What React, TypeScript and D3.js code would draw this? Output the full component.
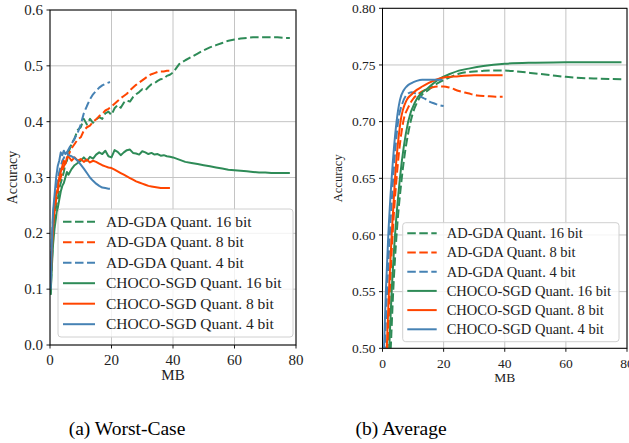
import React from 'react';
import * as d3 from 'd3';

const GREEN = '#2e8b57';
const ORANGE = '#ff4500';
const BLUE = '#4682b4';

const xTickValues = [0, 20, 40, 60, 80];
const wcYTicks = [0.0, 0.1, 0.2, 0.3, 0.4, 0.5, 0.6];
const avgYTicks = [0.5, 0.55, 0.6, 0.65, 0.7, 0.75, 0.8];

const legendLabels = [
  'AD-GDA Quant. 16 bit',
  'AD-GDA Quant. 8 bit',
  'AD-GDA Quant. 4 bit',
  'CHOCO-SGD Quant. 16 bit',
  'CHOCO-SGD Quant. 8 bit',
  'CHOCO-SGD Quant. 4 bit',
];
const seriesColors = [GREEN, ORANGE, BLUE, GREEN, ORANGE, BLUE];
const seriesDashed = [true, true, true, false, false, false];

// ---------- Worst-case panel ----------
const wcAd16X = [0.2,0.6,1,1.5,2,2.5,3,3.5,4,4.5,5,5.5,6,7,8,9,10,11,12,13,14,15,16,17,18,19,20,21,22,23,24,25,26,27,28,29,30,31,32,33,34,35,36,37,38,39,40,42,44,46,48,50,52,54,56,58,60,62,64,66,68,70,72,74,76,78];
const wcAd16Y = [0.09,0.15,0.19,0.22,0.25,0.26,0.28,0.29,0.30,0.31,0.325,0.33,0.345,0.36,0.37,0.385,0.39,0.405,0.395,0.405,0.398,0.404,0.408,0.405,0.415,0.418,0.412,0.424,0.43,0.425,0.434,0.438,0.436,0.444,0.449,0.453,0.458,0.456,0.462,0.467,0.469,0.473,0.476,0.477,0.482,0.484,0.488,0.503,0.51,0.516,0.522,0.528,0.533,0.537,0.541,0.545,0.547,0.549,0.55,0.551,0.551,0.551,0.551,0.551,0.55,0.55];

const wcAd8X = [0.2,0.6,1,1.5,2,2.5,3,3.5,4,4.5,5,5.5,6,7,8,9,10,11,12,13,14,15,16,17,18,19,20,21,22,23,24,25,26,27,28,29,30,31,32,33,34,35,36,37,38,39];
const wcAd8Y = [0.10,0.17,0.21,0.24,0.26,0.275,0.29,0.30,0.31,0.32,0.325,0.335,0.34,0.352,0.36,0.368,0.372,0.384,0.39,0.393,0.40,0.404,0.41,0.414,0.42,0.423,0.427,0.432,0.437,0.442,0.446,0.45,0.456,0.461,0.466,0.47,0.474,0.478,0.482,0.485,0.487,0.489,0.49,0.49,0.491,0.491];

const wcAd4X = [0.2,0.6,1,1.5,2,2.5,3,3.5,4,4.5,5,5.5,6,7,8,9,10,11,12,13,14,15,16,17,18,19,19.5];
const wcAd4Y = [0.11,0.19,0.23,0.26,0.28,0.295,0.31,0.32,0.33,0.335,0.34,0.345,0.35,0.36,0.37,0.38,0.395,0.415,0.428,0.44,0.449,0.455,0.461,0.465,0.468,0.47,0.471];

const wcCh16X = [0.2,0.6,1,1.5,2,2.5,3,3.5,4,4.5,5,5.5,6,7,8,9,10,11,12,13,14,15,16,17,18,19,20,21,22,23,24,25,26,27,28,29,30,31,32,33,34,35,36,37,38,39,40,42,44,46,48,50,52,54,56,58,60,62,64,66,68,70,72,74,76,78];
const wcCh16Y = [0.09,0.14,0.18,0.21,0.23,0.245,0.26,0.275,0.285,0.29,0.30,0.31,0.305,0.315,0.322,0.326,0.33,0.336,0.33,0.337,0.334,0.341,0.345,0.342,0.348,0.338,0.336,0.349,0.346,0.34,0.345,0.349,0.35,0.344,0.343,0.341,0.347,0.345,0.342,0.344,0.341,0.342,0.339,0.34,0.338,0.337,0.336,0.332,0.328,0.326,0.324,0.322,0.32,0.318,0.316,0.314,0.313,0.312,0.311,0.31,0.309,0.309,0.308,0.308,0.308,0.308];

const wcCh8X = [0.2,0.6,1,1.5,2,2.5,3,3.5,4,4.5,5,5.5,6,7,8,9,10,11,12,13,14,15,16,17,18,19,20,21,22,23,24,25,26,27,28,29,30,31,32,33,34,35,36,37,38,39];
const wcCh8Y = [0.11,0.17,0.21,0.25,0.27,0.28,0.30,0.31,0.32,0.33,0.325,0.335,0.338,0.33,0.336,0.33,0.333,0.328,0.332,0.327,0.33,0.328,0.325,0.322,0.32,0.318,0.317,0.314,0.311,0.308,0.305,0.302,0.299,0.296,0.293,0.291,0.289,0.287,0.285,0.284,0.283,0.282,0.281,0.281,0.281,0.281];

const wcCh4X = [0.2,0.6,1,1.5,2,2.5,3,3.5,4,4.5,5,5.5,6,7,8,9,10,11,12,13,14,15,16,17,18,19,19.5];
const wcCh4Y = [0.10,0.18,0.24,0.27,0.30,0.32,0.33,0.345,0.34,0.348,0.342,0.345,0.34,0.338,0.335,0.33,0.323,0.316,0.308,0.30,0.294,0.289,0.285,0.282,0.281,0.28,0.28];

// ---------- Average panel ----------
const avAd16X = [0,2.7,3.5,4.6,6.3,9.2,11.7,15,18.8,22,25.3,29,33,37,41,45,50,55,60,65,70,78.2];
const avAd16Y = [0.34,0.50,0.55,0.60,0.65,0.70,0.719,0.728,0.735,0.739,0.7425,0.744,0.7448,0.7452,0.745,0.744,0.7425,0.741,0.7395,0.7385,0.738,0.7375];

const avAd8X = [0,1.7,2.4,3.3,4.6,6.8,8.5,10,12,14,16,18,20,22,25,28,31,34,37,39.3];
const avAd8Y = [0.38,0.50,0.55,0.60,0.65,0.70,0.713,0.72,0.725,0.728,0.730,0.731,0.731,0.730,0.727,0.725,0.723,0.7225,0.722,0.722];

const avAd4X = [0,0.8,1.5,2.4,3.5,5.1,6.5,8,9.5,11,12.5,14,15.5,17,18.5,20];
const avAd4Y = [0.42,0.50,0.55,0.60,0.65,0.70,0.716,0.724,0.726,0.7245,0.722,0.72,0.7175,0.716,0.7145,0.7137];

const avCh16X = [0,2.2,3.0,4.1,5.7,8.4,11,15,18.8,22,25,28.6,33,40,50,60,70,78.2];
const avCh16Y = [0.36,0.50,0.55,0.60,0.65,0.70,0.719,0.730,0.738,0.742,0.745,0.747,0.749,0.751,0.752,0.7525,0.7525,0.7525];

const avCh8X = [0,1.4,2.1,3.0,4.1,5.9,7.9,9.5,11.2,13,15,17.5,20,25,30,35,39.3];
const avCh8Y = [0.40,0.50,0.55,0.60,0.65,0.70,0.719,0.724,0.728,0.731,0.734,0.737,0.739,0.740,0.741,0.741,0.741];

const avCh4X = [0,0.5,1.1,1.9,3.0,4.6,5.7,7,7.9,9.5,11.2,13,15,17,19.5];
const avCh4Y = [0.44,0.50,0.55,0.60,0.65,0.70,0.719,0.728,0.731,0.734,0.736,0.737,0.737,0.737,0.737];

const zip = (xs: number[], ys: number[]) => xs.map((x, i) => [x, ys[i]] as [number, number]);

const wcSeries = [
  zip(wcAd16X, wcAd16Y), zip(wcAd8X, wcAd8Y), zip(wcAd4X, wcAd4Y),
  zip(wcCh16X, wcCh16Y), zip(wcCh8X, wcCh8Y), zip(wcCh4X, wcCh4Y),
];
const avSeries = [
  zip(avAd16X, avAd16Y), zip(avAd8X, avAd8Y), zip(avAd4X, avAd4Y),
  zip(avCh16X, avCh16Y), zip(avCh8X, avCh8Y), zip(avCh4X, avCh4Y),
];

const FONT = 'Liberation Serif, DejaVu Serif, serif';

type PanelProps = {
  id: string;
  x0: number; x1: number; y0: number; y1: number;
  yDomain: [number, number];
  yTicks: number[];
  yFmt: (v: number) => string;
  series: [number, number][][];
  smooth: boolean;
  tickFont: number;
  legendFont: number;
  legend: { x: number; y: number; w: number; h: number; row0: number; step: number; lx0: number; lx1: number; tx: number };
  yLabelX: number;
  xLabelY: number;
};

function Panel(p: PanelProps) {
  const xs = d3.scaleLinear().domain([0, 80]).range([p.x0, p.x1]);
  const ys = d3.scaleLinear().domain(p.yDomain).range([p.y1, p.y0]);
  const line = d3.line<[number, number]>()
    .x(d => xs(d[0]))
    .y(d => ys(d[1]))
    .curve(p.smooth ? d3.curveMonotoneX : d3.curveLinear);
  const tickLen = 3.5;
  return (
    <g>
      <defs>
        <clipPath id={p.id}>
          <rect x={p.x0} y={p.y0} width={p.x1 - p.x0} height={p.y1 - p.y0} />
        </clipPath>
      </defs>
      {xTickValues.map(v => (
        <line key={'gx' + v} x1={xs(v)} x2={xs(v)} y1={p.y0} y2={p.y1} stroke="#c4c4c4" strokeWidth={1} />
      ))}
      {p.yTicks.map(v => (
        <line key={'gy' + v} x1={p.x0} x2={p.x1} y1={ys(v)} y2={ys(v)} stroke="#c4c4c4" strokeWidth={1} />
      ))}
      <g clipPath={`url(#${p.id})`}>
        {p.series.map((s, i) => (
          <path key={i} d={line(s) || ''} fill="none" stroke={seriesColors[i]} strokeWidth={2}
            strokeDasharray={seriesDashed[i] ? '8.5,3.5' : undefined} strokeLinejoin="round" />
        ))}
      </g>
      <rect x={p.x0} y={p.y0} width={p.x1 - p.x0} height={p.y1 - p.y0} fill="none" stroke="#000" strokeWidth={1} />
      {xTickValues.map(v => (
        <g key={'tx' + v}>
          <line x1={xs(v)} x2={xs(v)} y1={p.y1} y2={p.y1 + tickLen} stroke="#000" strokeWidth={0.9} />
          <text x={xs(v)} y={p.y1 + 20} textAnchor="middle" style={{ fontFamily: FONT }} fontSize={p.tickFont} fill="#222">{v}</text>
        </g>
      ))}
      {p.yTicks.map(v => (
        <g key={'ty' + v}>
          <line x1={p.x0 - tickLen} x2={p.x0} y1={ys(v)} y2={ys(v)} stroke="#000" strokeWidth={0.9} />
          <text x={p.x0 - tickLen - 3.5} y={ys(v)} dy="0.34em" textAnchor="end" style={{ fontFamily: FONT }} fontSize={p.tickFont} fill="#222">{p.yFmt(v)}</text>
        </g>
      ))}
      <text x={(p.x0 + p.x1) / 2} y={p.xLabelY} textAnchor="middle" style={{ fontFamily: FONT }} fontSize={p.tickFont} fill="#222">MB</text>
      <text transform={`translate(${p.yLabelX},${(p.y0 + p.y1) / 2}) rotate(-90)`} textAnchor="middle" style={{ fontFamily: FONT }} fontSize={p.tickFont - 1} fill="#222">Accuracy</text>
      <rect x={p.legend.x} y={p.legend.y} width={p.legend.w} height={p.legend.h} rx={3} ry={3}
        fill="#fff" fillOpacity={0.8} stroke="#d0d0d0" strokeWidth={1} />
      {legendLabels.map((lab, i) => {
        const cy = p.legend.row0 + i * p.legend.step;
        return (
          <g key={'lg' + i}>
            <line x1={p.legend.lx0} x2={p.legend.lx1} y1={cy} y2={cy} stroke={seriesColors[i]} strokeWidth={2}
              strokeDasharray={seriesDashed[i] ? '8.5,3.5' : undefined} />
            <text x={p.legend.tx} y={cy} dy="0.34em" style={{ fontFamily: FONT }} fontSize={p.legendFont} fill="#222">{lab}</text>
          </g>
        );
      })}
    </g>
  );
}

export default function App() {
  return (
    <svg width={629} height={443} viewBox="0 0 629 443" style={{ display: 'block', position: 'absolute', left: 0, top: 0, background: '#fff' }}>
      <rect x={0} y={0} width={629} height={443} fill="#fff" />
      <Panel
        id="clipA"
        x0={50} x1={296} y0={10} y1={345}
        yDomain={[0, 0.6]} yTicks={wcYTicks} yFmt={v => v.toFixed(1)}
        series={wcSeries} smooth={false}
        tickFont={15} legendFont={15.5}
        legend={{ x: 58, y: 209, w: 235, h: 128, row0: 221.7, step: 20.5, lx0: 63, lx1: 95, tx: 106 }}
        yLabelX={17} xLabelY={380}
      />
      <Panel
        id="clipB"
        x0={382.5} x1={627} y0={8.3} y1={348.3}
        yDomain={[0.5, 0.8]} yTicks={avgYTicks} yFmt={v => v.toFixed(2)}
        series={avSeries} smooth={true}
        tickFont={13.5} legendFont={14.5}
        legend={{ x: 402.7, y: 222.7, w: 216.3, h: 119, row0: 233.3, step: 19.2, lx0: 407.3, lx1: 436.7, tx: 446.7 }}
        yLabelX={342} xLabelY={382}
      />
      <text x={127} y={435} textAnchor="middle" style={{ fontFamily: FONT }} fontSize={19.5} fill="#000">(a) Worst-Case</text>
      <text x={401} y={435} textAnchor="middle" style={{ fontFamily: FONT }} fontSize={19.5} fill="#000">(b) Average</text>
    </svg>
  );
}
